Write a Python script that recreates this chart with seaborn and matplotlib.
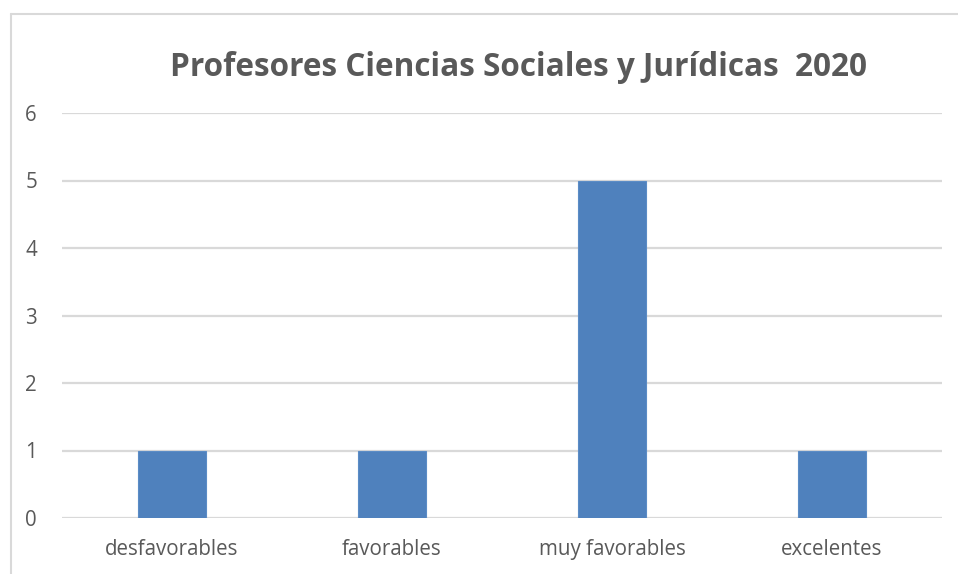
import seaborn as sns
import matplotlib.pyplot as plt
import pandas as pd

categorias = ['desfavorables', 'favorables', 'muy favorables', 'excelentes']
valores = [1, 1, 5, 1]

df = pd.DataFrame({'categoria': categorias, 'valor': valores})

sns.set_style('white')
plt.rcParams['font.family'] = ['Open Sans', 'DejaVu Sans']

fig = plt.figure(figsize=[9.58, 5.74], dpi=100)
ax = fig.add_axes([62/958, 1-518/574, 880/958, 405/574])

sns.barplot(x='categoria', y='valor', data=df, color='#4F81BD', width=0.31,
            saturation=1, ax=ax, zorder=3, edgecolor='#5B8CC6', linewidth=0.8)

ax.set_ylim(0, 6)
ax.set_xlim(-0.5, 3.5)
ax.set_yticks(range(0, 7))
ax.grid(axis='y', color='#D9D9D9', linewidth=1.6, zorder=0)
for s in ax.spines.values():
    s.set_visible(False)
ax.tick_params(axis='both', length=0, colors='#595959', labelsize=14.8)
ax.tick_params(axis='y', pad=18)
ax.tick_params(axis='x', pad=15)
ax.set_xlabel('')
ax.set_ylabel('')

# marco del grafico (cortado a la derecha y abajo)
fig.add_artist(plt.Line2D([11/958, 11/958], [0, 1-14/574], color='#D9D9D9', linewidth=1.5))
fig.add_artist(plt.Line2D([11/958, 1], [1-14/574, 1-14/574], color='#D9D9D9', linewidth=1.5))

fig.text(518/958, 1-68/574, 'Profesores Ciencias Sociales y Jurídicas  2020',
         ha='center', va='center', fontsize=22.7, fontweight='bold', color='#595959')

plt.savefig('out.png', dpi=100)
